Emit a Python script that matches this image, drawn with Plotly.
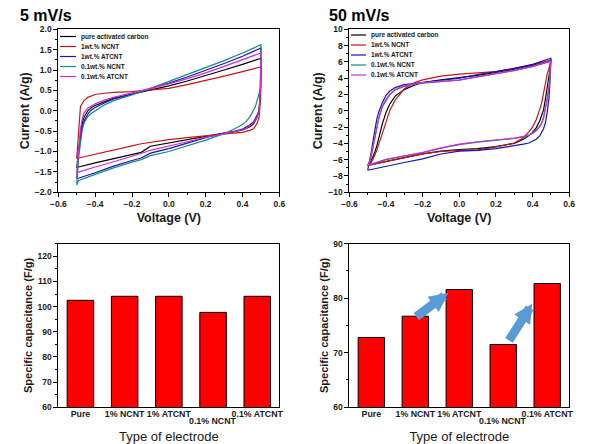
import plotly.graph_objects as go

# ---------------- data ----------------
series_names = ["pure activated carbon", "1wt.% NCNT", "1wt.% ATCNT", "0.1wt.% NCNT", "0.1wt.% ATCNT"]
series_colors = ["#000000", "#CC1414", "#1414B4", "#13898A", "#D62AD6"]

# 5 mV/s CV loops (anodic branch then cathodic branch)
v5_up = [-0.5, -0.49, -0.48, -0.47, -0.46, -0.44, -0.42, -0.4, -0.35, -0.3, -0.2, -0.1, 0.0, 0.1, 0.2, 0.3, 0.4, 0.5]
v5_down = [0.5, 0.498, 0.495, 0.49, 0.48, 0.47, 0.46, 0.44, 0.42, 0.4, 0.35, 0.3, 0.2, 0.1, 0.0, -0.1, -0.15, -0.2, -0.3, -0.4, -0.49, -0.5]
i5_up_pure = [-1.40, -0.95, -0.58, -0.3, -0.15, 0.0, 0.08, 0.13, 0.22, 0.31, 0.41, 0.51, 0.61, 0.73, 0.86, 1.0, 1.14, 1.29]
i5_up_ncnt1 = [-1.18, -0.4, 0.1, 0.18, 0.25, 0.33, 0.37, 0.40, 0.43, 0.45, 0.47, 0.51, 0.55, 0.64, 0.74, 0.85, 0.96, 1.08]
i5_up_atcnt1 = [-1.67, -1.05, -0.7, -0.4, -0.25, -0.08, 0.02, 0.08, 0.19, 0.29, 0.41, 0.54, 0.68, 0.83, 0.99, 1.16, 1.34, 1.54]
i5_up_ncnt01 = [-1.82, -1.15, -0.8, -0.46, -0.3, -0.14, -0.06, 0.0, 0.14, 0.25, 0.39, 0.55, 0.72, 0.88, 1.05, 1.23, 1.42, 1.62]
i5_up_atcnt01 = [-1.52, -0.85, -0.45, -0.2, -0.05, 0.07, 0.13, 0.17, 0.26, 0.33, 0.44, 0.55, 0.66, 0.79, 0.93, 1.09, 1.25, 1.42]
i5_down_pure = [1.29, 0.5, 0.23, 0.0, -0.15, -0.25, -0.32, -0.39, -0.44, -0.47, -0.52, -0.55, -0.63, -0.71, -0.79, -0.87, -1.02, -1.07, -1.17, -1.28, -1.38, -1.40]
i5_down_ncnt1 = [1.08, 0.3, 0.06, -0.15, -0.3, -0.38, -0.44, -0.48, -0.51, -0.53, -0.55, -0.57, -0.62, -0.66, -0.71, -0.77, -0.81, -0.86, -0.96, -1.06, -1.16, -1.18]
i5_down_atcnt1 = [1.54, 0.6, 0.3, 0.02, -0.1, -0.2, -0.27, -0.35, -0.41, -0.45, -0.51, -0.55, -0.66, -0.79, -0.93, -1.04, -1.16, -1.22, -1.36, -1.52, -1.65, -1.67]
i5_down_ncnt01 = [1.62, 1.0, 0.55, 0.42, 0.24, 0.11, 0.02, -0.15, -0.26, -0.34, -0.46, -0.56, -0.72, -0.86, -1.0, -1.1, -1.2, -1.26, -1.4, -1.56, -1.71, -1.82]
i5_down_atcnt01 = [1.42, 0.6, 0.28, 0.0, -0.14, -0.23, -0.3, -0.37, -0.43, -0.46, -0.52, -0.56, -0.65, -0.76, -0.87, -0.97, -1.05, -1.12, -1.25, -1.38, -1.5, -1.52]

# 50 mV/s CV loops
v50_up = [-0.5, -0.49, -0.48, -0.47, -0.46, -0.45, -0.44, -0.42, -0.4, -0.38, -0.35, -0.3, -0.25, -0.2, -0.1, 0.0, 0.1, 0.2, 0.3, 0.4, 0.5]
v50_down = [0.5, 0.495, 0.49, 0.48, 0.47, 0.46, 0.45, 0.44, 0.42, 0.4, 0.38, 0.35, 0.3, 0.2, 0.1, 0.0, -0.1, -0.2, -0.3, -0.4, -0.5]
i50_up_pure = [-6.7, -6.5, -6.1, -5.6, -5.0, -4.3, -3.3, -1.6, -0.2, 0.8, 1.8, 2.6, 3.1, 3.45, 3.8, 4.05, 4.35, 4.7, 5.1, 5.6, 6.2]
i50_up_ncnt1 = [-6.7, -6.6, -6.3, -5.9, -5.4, -4.8, -4.2, -2.8, -1.4, 0.0, 1.3, 2.7, 3.4, 3.8, 4.25, 4.5, 4.65, 4.8, 5.2, 5.65, 6.2]
i50_up_atcnt1 = [-7.3, -6.3, -5.0, -3.6, -2.2, -1.0, -0.2, 1.0, 1.9, 2.4, 2.85, 3.2, 3.35, 3.5, 3.75, 4.0, 4.45, 4.8, 5.2, 5.7, 6.45]
i50_up_ncnt01 = [-6.7, -6.3, -5.5, -4.4, -3.1, -2.0, -1.0, 0.5, 1.3, 1.95, 2.55, 3.0, 3.25, 3.4, 3.58, 3.75, 4.15, 4.55, 4.92, 5.42, 6.1]
i50_up_atcnt01 = [-6.7, -6.2, -5.4, -4.3, -3.0, -1.9, -0.9, 0.6, 1.4, 2.0, 2.6, 3.05, 3.3, 3.45, 3.6, 3.8, 4.2, 4.6, 4.95, 5.45, 6.1]
i50_down_pure = [6.2, 5.0, 4.2, 3.0, 1.4, 0.1, -0.6, -1.2, -2.1, -2.65, -3.05, -3.5, -4.0, -4.4, -4.65, -4.75, -4.95, -5.3, -5.75, -6.2, -6.7]
i50_down_ncnt1 = [6.2, 5.6, 5.2, 4.5, 3.3, 2.1, 1.0, 0.2, -1.1, -2.0, -2.6, -3.3, -3.95, -4.45, -4.8, -4.85, -5.0, -5.3, -5.75, -6.2, -6.7]
i50_down_atcnt1 = [6.45, 3.5, 1.6, -0.2, -1.5, -2.2, -2.7, -3.05, -3.5, -3.75, -3.95, -4.1, -4.3, -4.65, -4.85, -4.95, -5.3, -5.9, -6.35, -6.8, -7.3]
i50_down_ncnt01 = [6.1, 4.4, 2.9, 1.4, 0.0, -0.9, -1.5, -1.9, -2.45, -2.8, -3.0, -3.2, -3.4, -3.6, -3.85, -4.15, -4.6, -5.15, -5.55, -6.0, -6.7]
i50_down_atcnt01 = [6.1, 4.5, 3.0, 1.5, 0.1, -0.8, -1.45, -1.85, -2.4, -2.75, -2.95, -3.15, -3.35, -3.55, -3.8, -4.1, -4.55, -5.1, -5.5, -5.95, -6.7]

# specific capacitance bars
electrode_types = ["Pure", "1% NCNT", "1% ATCNT", "0.1% NCNT", "0.1% ATCNT"]
cap_5 = [102.5, 104.1, 104.1, 97.7, 104.1]
cap_50 = [72.8, 76.7, 81.6, 71.5, 82.7]

# ---------------- figure ----------------
W, H = 614, 444
FONT = "Liberation Sans"
fig = go.Figure()

up5 = [i5_up_pure, i5_up_ncnt1, i5_up_atcnt1, i5_up_ncnt01, i5_up_atcnt01]
dn5 = [i5_down_pure, i5_down_ncnt1, i5_down_atcnt1, i5_down_ncnt01, i5_down_atcnt01]
up50 = [i50_up_pure, i50_up_ncnt1, i50_up_atcnt1, i50_up_ncnt01, i50_up_atcnt01]
dn50 = [i50_down_pure, i50_down_ncnt1, i50_down_atcnt1, i50_down_ncnt01, i50_down_atcnt01]

for k in range(5):
    fig.add_trace(go.Scatter(x=v5_up + v5_down, y=up5[k] + dn5[k], mode="lines",
                             line=dict(color=series_colors[k], width=1.2),
                             name=series_names[k], showlegend=False,
                             xaxis="x", yaxis="y"))
for k in range(5):
    fig.add_trace(go.Scatter(x=v50_up + v50_down, y=up50[k] + dn50[k], mode="lines",
                             line=dict(color=series_colors[k], width=1.2),
                             name=series_names[k], showlegend=False,
                             xaxis="x2", yaxis="y2"))

xpos = list(range(len(electrode_types)))
fig.add_trace(go.Bar(x=xpos, y=cap_5, width=0.6, marker=dict(color="#FF0000", line=dict(color="#000000", width=1)),
                     showlegend=False, xaxis="x3", yaxis="y3"))
fig.add_trace(go.Bar(x=xpos, y=cap_50, width=0.6, marker=dict(color="#FF0000", line=dict(color="#000000", width=1)),
                     showlegend=False, xaxis="x4", yaxis="y4"))

tickfont = dict(family=FONT, size=8.5, color="#1a1a1a", weight="bold")
titlefont = dict(family=FONT, size=12.5, color="#1a1a1a", weight="bold")

def axis_common(**kw):
    d = dict(showline=True, linecolor="#000", linewidth=1, mirror=True, showgrid=False, zeroline=False,
             automargin=False,
             ticks="outside", ticklen=4, tickcolor="#000", tickwidth=1, tickfont=tickfont)
    d.update(kw)
    return d

xl = [0.095, 0.455]
xr = [0.569, 0.927]
yt = [0.567, 0.934]
yb = [0.083, 0.451]

# the 4th category label is staggered below the others (drawn separately)
STAGGERED = 3
ticktext = ["" if i == STAGGERED else t for i, t in enumerate(electrode_types)]
bar_tickfont = dict(family=FONT, size=8.8, color="#1a1a1a", weight="bold")
bar_xtitle = dict(text="Type of electrode", font=dict(family=FONT, size=13, color="#1a1a1a"), standoff=14)
bar_ytitle_font = dict(family=FONT, size=11, color="#1a1a1a", weight="bold")

fig.update_layout(
    width=W, height=H,
    margin=dict(l=0, r=0, t=0, b=0, autoexpand=False),
    paper_bgcolor="white", plot_bgcolor="white",
    xaxis=axis_common(domain=xl, anchor="y", range=[-0.6, 0.6], dtick=0.2, tickformat=".1f",
                      minor=dict(ticks="outside", ticklen=2, dtick=0.1, tickcolor="#000"),
                      title=dict(text="Voltage (V)", font=titlefont, standoff=4)),
    yaxis=axis_common(domain=yt, anchor="x", range=[-2.0, 2.0], dtick=0.5, tickformat=".1f",
                      minor=dict(ticks="outside", ticklen=2, dtick=0.25, tickcolor="#000"),
                      title=dict(text="Current (A/g)", font=titlefont, standoff=2)),
    xaxis2=axis_common(domain=xr, anchor="y2", range=[-0.6, 0.6], dtick=0.2, tickformat=".1f",
                       minor=dict(ticks="outside", ticklen=2, dtick=0.1, tickcolor="#000"),
                       title=dict(text="Voltage (V)", font=titlefont, standoff=4)),
    yaxis2=axis_common(domain=yt, anchor="x2", range=[-10, 10], dtick=2,
                       minor=dict(ticks="outside", ticklen=2, dtick=1, tickcolor="#000"),
                       title=dict(text="Current (A/g)", font=titlefont, standoff=2)),
    xaxis3=axis_common(domain=xl, anchor="y3", range=[-0.5, 4.5], tickvals=xpos, ticktext=ticktext,
                       ticks="", tickangle=0, tickfont=bar_tickfont, ticklabelstandoff=-2, title=bar_xtitle),
    yaxis3=axis_common(domain=yb, anchor="x3", range=[60, 125], dtick=10, tick0=60,
                       minor=dict(ticks="outside", ticklen=2, dtick=5, tickcolor="#000"),
                       title=dict(text="Specific capacitance (F/g)", font=bar_ytitle_font, standoff=2)),
    xaxis4=axis_common(domain=xr, anchor="y4", range=[-0.5, 4.5], tickvals=xpos, ticktext=ticktext,
                       ticks="", tickangle=0, tickfont=bar_tickfont, ticklabelstandoff=-2, title=bar_xtitle),
    yaxis4=axis_common(domain=yb, anchor="x4", range=[60, 90], dtick=10, tick0=60,
                       minor=dict(ticks="outside", ticklen=2, dtick=5, tickcolor="#000"),
                       title=dict(text="Specific capacitance (F/g)", font=bar_ytitle_font, standoff=2)),
)

annotations = []
shapes = []

# panel titles
annotations.append(dict(text="5 mV/s", x=18 / W, y=1 - 15.5 / H, xref="paper", yref="paper",
                        xanchor="left", yanchor="middle", showarrow=False,
                        font=dict(family=FONT, size=16, color="#000", weight="bold")))
annotations.append(dict(text="50 mV/s", x=327 / W, y=1 - 15.5 / H, xref="paper", yref="paper",
                        xanchor="left", yanchor="middle", showarrow=False,
                        font=dict(family=FONT, size=16, color="#000", weight="bold")))

# staggered category label on both bar charts
for xr_name in ["x3", "x4"]:
    annotations.append(dict(text=electrode_types[STAGGERED], x=xpos[STAGGERED], y=1 - 420.5 / H,
                            xref=xr_name, yref="paper", xanchor="center", yanchor="middle",
                            showarrow=False, borderpad=0,
                            font=bar_tickfont))

# custom compact legends
legend_layouts = [(60, 76, 80, 36.5), (351, 366, 370, 35.0)]
for (lx0, lx1, tx, ty0) in legend_layouts:
    for k in range(5):
        py = ty0 + 10 * k
        shapes.append(dict(type="line", xref="paper", yref="paper",
                           x0=lx0 / W, x1=lx1 / W, y0=1 - py / H, y1=1 - py / H,
                           line=dict(color=series_colors[k], width=1.2)))
        annotations.append(dict(text=series_names[k], x=tx / W, y=1 - py / H, xref="paper", yref="paper",
                                xanchor="left", yanchor="middle", showarrow=False, borderpad=0,
                                font=dict(family=FONT, size=6.5, color="#1a1a1a", weight="bold")))

# blue arrows on the 50 mV/s bar chart
for (tail_x, tail_y, tip_x, tip_y) in [(0.99, 76.4, 1.75, 80.95), (3.11, 71.97, 3.66, 79.0)]:
    annotations.append(dict(x=tip_x, y=tip_y, ax=tail_x, ay=tail_y, xref="x4", yref="y4",
                            axref="x4", ayref="y4", text="", showarrow=True,
                            arrowhead=2, arrowsize=0.42, arrowwidth=9, arrowcolor="#5B9BD5",
                            standoff=0, startstandoff=0))

fig.update_layout(annotations=annotations, shapes=shapes)

fig.write_html("out.html", config={"displayModeBar": False, "staticPlot": True},
               post_script="document.body.style.margin='0';document.body.style.padding='0';")
